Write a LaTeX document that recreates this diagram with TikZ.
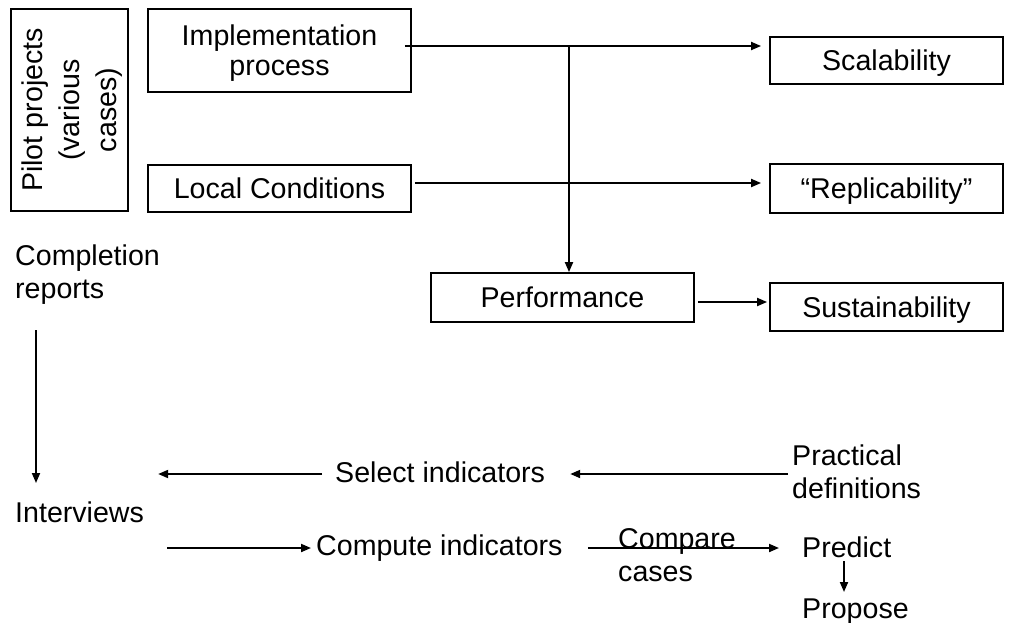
\documentclass[tikz,border=0pt]{standalone}
\usepackage{fontspec}
\setmainfont{Liberation Sans}
\usetikzlibrary{arrows.meta}
\begin{document}
\begin{tikzpicture}[x=1pt,y=-1pt,
  every node/.style={font=\fontsize{28.6pt}{33pt}\selectfont, inner sep=0pt},
  box/.style={draw, line width=1.8pt, align=center, text depth=-5pt},
  lbl/.style={anchor=north west, align=left},
  arr/.style={line width=1.9pt, -{Triangle[length=10pt,width=8pt]}},
  ]
\useasboundingbox (0,0) rectangle (1023,622);

% framed boxes of the upper scheme
\node[box, rotate=90, minimum width=202pt, minimum height=117pt, text depth=0pt,
      font=\fontsize{28.6pt}{37pt}\selectfont] (pilot) at (69.5,110) {Pilot projects\\(various\\cases)};
\node[box, minimum width=263pt, minimum height=83pt, text depth=1.5pt,
      font=\fontsize{28.6pt}{30pt}\selectfont] (impl) at (279.5,50.5) {Implementation\\process};
\node[box, minimum width=263pt, minimum height=47pt] (loc) at (279.5,188.5) {Local Conditions};
\node[box, minimum width=233pt, minimum height=47pt] (scal) at (886.5,60.5) {Scalability};
\node[box, minimum width=233pt, minimum height=49pt] (repl) at (886.5,188.5) {“Replicability”};
\node[box, minimum width=263pt, minimum height=49pt] (perf) at (562.5,297.5) {Performance};
\node[box, minimum width=233pt, minimum height=48pt] (sust) at (886.5,307) {Sustainability};

% free text of the lower scheme
\node[lbl] (compl) at (15,245) {Completion\\reports};
\node[lbl] (intv) at (15,502) {Interviews};
\node[lbl] (sel) at (335,462) {Select indicators};
\node[lbl] (prac) at (792,445) {Practical\\definitions};
\node[lbl] (cmpt) at (316,535) {Compute indicators};
\node[lbl] (cmpr) at (618,528) {Compare\\cases};
\node[lbl] (pred) at (802,537) {Predict};
\node[lbl] (prop) at (802,599) {Propose};

% helper coordinates for the connector lines
\coordinate (jt) at (569,46);
\coordinate (jm) at (569,183);
\coordinate (ps) at (0,302);
\coordinate (cv) at (36,0);
\coordinate (sy) at (0,474);
\coordinate (cy) at (0,548);
\coordinate (px) at (844,0);

% upper connectors
\draw[arr, shorten <=-7pt, shorten >=8pt] (impl.east |- jt) -- (scal.west |- jt);
\draw[arr, shorten <=3pt, shorten >=8pt] (loc.east |- jm) -- (repl.west |- jm);
\draw[arr] (jt) -- (perf.north -| jt);
\draw[arr, shorten <=3pt, shorten >=2pt] (perf.east |- ps) -- (sust.west |- ps);

% lower connectors
\draw[arr, shorten <=25pt, shorten >=19pt] (compl.south -| cv) -- (intv.north -| cv);
\draw[arr, shorten <=13pt, shorten >=14pt] (sel.west |- sy) -- (intv.east |- sy);
\draw[arr, shorten <=4pt, shorten >=25pt] (prac.west |- sy) -- (sel.east |- sy);
\draw[arr, shorten <=23pt, shorten >=5pt] (intv.east |- cy) -- (cmpt.west |- cy);
\draw[arr, shorten <=25pt, shorten >=23pt] (cmpt.east |- cy) -- (pred.west |- cy);
\draw[arr, shorten <=3pt, shorten >=7pt] (pred.south -| px) -- (prop.north -| px);
\end{tikzpicture}
\end{document}
